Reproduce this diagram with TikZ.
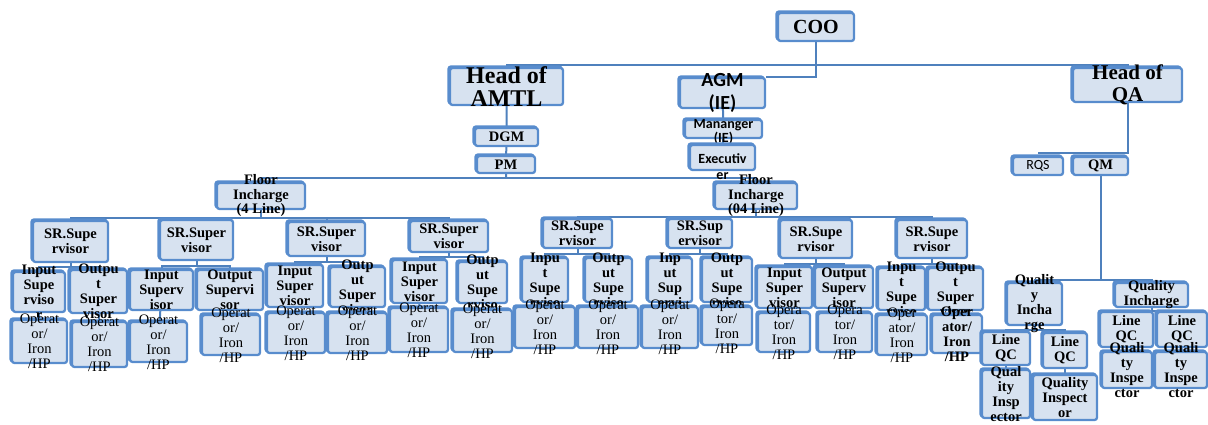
\documentclass[tikz,border=0pt]{standalone}
\usepackage{fontspec}
\setmainfont{Liberation Serif}
\newfontfamily\calibri{Carlito}
\usetikzlibrary{shadows,backgrounds}

\definecolor{boxfill}{RGB}{215,226,240}
\definecolor{boxline}{RGB}{88,140,205}
\definecolor{linkblue}{RGB}{79,129,189}

\tikzset{
	org/.style={draw=boxline, fill=boxfill, line width=2.3pt, rounded corners=2.5pt, inner sep=0pt,
		copy shadow={shadow xshift=-1.5pt, shadow yshift=1.5pt}},
	box/.style 2 args={org, minimum width=#1pt, minimum height=#2pt},
	txt/.style={align=center, inner sep=0pt, font=\bfseries\fontsize{14.5}{15}\selectfont},
	optxt/.style={align=center, inner sep=0pt, font=\fontsize{14.5}{15}\selectfont},
	link/.style={draw=linkblue, line width=2pt},
}

\begin{document}
\begin{tikzpicture}[x=1pt,y=-1pt]
	\useasboundingbox (0,0) rectangle (1208,424);

		% top of the chart
		\node[box={76}{28}, label={[txt, font=\bfseries\fontsize{20}{22}\selectfont]center:COO}] (coo) at (816,27) {};
		\node[box={113}{37}, label={[txt, font=\bfseries\fontsize{24}{23}\selectfont]center:{Head of\\AMTL}}] (amtl) at (506.5,86.5) {};
		\node[box={85}{30}, label={[txt, font=\calibri\bfseries\fontsize{20}{23}\selectfont]center:{AGM\\(IE)}}] (agm) at (722.5,93) {};
		\node[box={109}{34}, label={[txt, font=\bfseries\fontsize{21}{22}\selectfont]center:{Head of\\QA}}] (qa) at (1127.5,85) {};

		\node[box={63}{18}, label={[txt]center:DGM}] (dgm) at (506.5,137) {};
		\node[box={58}{17}, label={[txt]center:PM}] (pm) at (506,164.5) {};
		\node[box={77}{18}, label={[txt, font=\calibri\bfseries\fontsize{14}{14}\selectfont, yshift=-3pt]center:{Mananger\\(IE)}}] (mgr) at (723.5,129) {};
		\node[box={65}{25}, label={[txt, font=\calibri\bfseries\fontsize{14}{15.5}\selectfont, yshift=-9pt]center:{Executiv\\er}}] (exe) at (722.5,157.5) {};
		\node[box={50}{18}, label={[optxt, font=\calibri\fontsize{14}{14}\selectfont]center:RQS}] (rqs) at (1038,166) {};
		\node[box={55}{18}, label={[txt]center:QM}] (qm) at (1100.5,166) {};

		\node[box={88}{26}, label={[txt, font=\bfseries\fontsize{14.5}{14.5}\selectfont]center:{Floor\\Incharge\\(4 Line)}}] (fi1) at (261,196) {};
		\node[box={82}{26}, label={[txt, font=\bfseries\fontsize{14.5}{14.5}\selectfont]center:{Floor\\Incharge\\(04 Line)}}] (fi2) at (756,196) {};

		% senior supervisors
		\node[box={75}{41}, label={[txt]center:{SR.Supe\\rvisor}}] (s1) at (70.5,241.5) {};
		\node[box={73}{40}, label={[txt]center:{SR.Super\\visor}}] (s2) at (196.5,240) {};
		\node[box={77}{34}, label={[txt]center:{SR.Super\\visor}}] (s3) at (326.5,239) {};
		\node[box={78}{31}, label={[txt]center:{SR.Super\\visor}}] (s4) at (449,236.5) {};
		\node[box={69}{29}, label={[txt]center:{SR.Supe\\rvisor}}] (s5) at (577.5,233.5) {};
		\node[box={64}{29}, label={[txt]center:{SR.Sup\\ervisor}}] (s6) at (700,233.5) {};
		\node[box={72}{38}, label={[txt]center:{SR.Supe\\rvisor}}] (s7) at (816,239) {};
		\node[box={70}{38}, label={[txt]center:{SR.Supe\\rvisor}}] (s8) at (932,239) {};

		% input and output supervisors
		\node[box={52}{40}, label={[txt]center:{Input\\Supe\\rviso\\r}}] (i1) at (39,292) {};
		\node[box={57}{43}, label={[txt]center:{Outpu\\t\\Super\\visor}}] (o1) at (98.5,291.5) {};
		\node[box={63}{40}, label={[txt]center:{Input\\Superv\\isor}}] (i2) at (161.5,290) {};
		\node[box={66}{40}, label={[txt]center:{Output\\Supervi\\sor}}] (o2) at (230,290) {};
		\node[box={56}{42}, label={[txt]center:{Input\\Super\\visor}}] (i3) at (295,286) {};
		\node[box={55}{40}, label={[txt]center:{Outp\\ut\\Super\\visor}}] (o3) at (357.5,287) {};
		\node[box={55}{43}, label={[txt]center:{Input\\Super\\visor}}] (i4) at (419.5,281.5) {};
		\node[box={49}{41}, label={[txt]center:{Outp\\ut\\Supe\\rviso}}] (o4) at (482.5,282.5) {};
		\node[box={46}{44}, label={[txt]center:{Inpu\\t\\Supe\\rviso}}] (i5) at (545,280) {};
		\node[box={47}{44}, label={[txt]center:{Outp\\ut\\Supe\\rviso}}] (o5) at (608.5,280) {};
		\node[box={44}{44}, label={[txt]center:{Inp\\ut\\Sup\\ervi}}] (i6) at (670,280) {};
		\node[box={50}{44}, label={[txt]center:{Outp\\ut\\Supe\\rviso}}] (o6) at (727,280) {};
		\node[box={55}{41}, label={[txt]center:{Input\\Super\\visor}}] (i7) at (784.5,287.5) {};
		\node[box={58}{41}, label={[txt]center:{Output\\Superv\\isor}}] (o7) at (844,287.5) {};
		\node[box={47}{42}, label={[txt]center:{Inpu\\t\\Supe\\rviso}}] (i8) at (901.5,289) {};
		\node[box={55}{42}, label={[txt]center:{Outpu\\t\\Super\\visor}}] (o8) at (955.5,289) {};

		% operators
		\node[box={55}{43}, label={[optxt]center:{Operat\\or/\\Iron\\/HP}}] (p1) at (39.5,341.5) {};
		\node[box={55}{45}, label={[optxt]center:{Operat\\or/\\Iron\\/HP}}] (p2) at (99.5,344.5) {};
		\node[box={57}{40}, label={[optxt]center:{Operat\\or/\\Iron\\/HP}}] (p3) at (158.5,342) {};
		\node[box={58}{40}, label={[optxt]center:{Operat\\or/\\Iron\\/HP}}] (p4) at (231,335) {};
		\node[box={58}{40}, label={[optxt]center:{Operat\\or/\\Iron\\/HP}}] (p5) at (296,333) {};
		\node[box={59}{40}, label={[optxt]center:{Operat\\or/\\Iron\\/HP}}] (p6) at (357.5,333) {};
		\node[box={58}{44}, label={[optxt]center:{Operat\\or/\\Iron\\/HP}}] (p7) at (419,330) {};
		\node[box={59}{42}, label={[optxt]center:{Operat\\or/\\Iron\\/HP}}] (p8) at (482.5,331) {};
		\node[box={60}{41}, label={[optxt]center:{Operat\\or/\\Iron\\/HP}}] (p9) at (545,327.5) {};
		\node[box={60}{41}, label={[optxt]center:{Operat\\or/\\Iron\\/HP}}] (p10) at (608,327.5) {};
		\node[box={56}{41}, label={[optxt]center:{Operat\\or/\\Iron\\/HP}}] (p11) at (670,327.5) {};
		\node[box={50}{38}, label={[optxt]center:{Opera\\tor/\\Iron\\/HP}}] (p12) at (727,326) {};
		\node[box={52}{39}, label={[optxt]center:{Opera\\tor/\\Iron\\/HP}}] (p13) at (784,332.5) {};
		\node[box={54}{39}, label={[optxt]center:{Opera\\tor/\\Iron\\/HP}}] (p14) at (845,332.5) {};
		\node[box={50}{40}, label={[optxt]center:{Oper\\ator/\\Iron\\/HP}}] (p15) at (902,335) {};
		\node[box={50}{38}, label={[txt]center:{Oper\\ator/\\Iron\\/HP}}] (p16) at (957,334) {};

		% quality side
		\node[box={55}{42}, label={[txt]center:{Qualit\\y\\Incha\\rge}}] (qi1) at (1034.5,304) {};
		\node[box={73}{24}, label={[txt]center:{Quality\\Incharge}}] (qi2) at (1151.5,295) {};
		\node[box={48}{33}, label={[txt]center:{Line\\QC}}] (l1) at (1006,348.5) {};
		\node[box={44}{35}, label={[txt]center:{Line\\QC}}] (l2) at (1065,350.5) {};
		\node[box={53}{35}, label={[txt]center:{Line\\QC}}] (l3) at (1126.5,329.5) {};
		\node[box={50}{35}, label={[txt]center:{Line\\QC}}] (l4) at (1182,329.5) {};
		\node[box={48}{48}, label={[txt]center:{Qual\\ity\\Insp\\ector}}] (qa1) at (1006,394) {};
		\node[box={64}{45}, label={[txt]center:{Quality\\Inspect\\or}}] (qa2) at (1065,397.5) {};
		\node[box={50}{36}, label={[txt]center:{Quali\\ty\\Inspe\\ctor}}] (qa3) at (1127,370) {};
		\node[box={52}{36}, label={[txt]center:{Quali\\ty\\Inspe\\ctor}}] (qa4) at (1181,370) {};

		\coordinate (topbus) at (815,65);
		\coordinate (flbus) at (506,178);
		\coordinate (srbus1) at (261,218);
		\coordinate (srbus2) at (756,217);
		\coordinate (qibus) at (1100.5,280);

	\begin{scope}[on background layer]
		% connectors
		\draw[link] (coo) |- (agm.north east);
		\draw[link] (amtl) |- (topbus) -| (qa);
		\draw[link] (amtl) -- (dgm) -- (pm) -- (flbus);
		\draw[link] (agm) -- (mgr) -- (exe);
		\draw[link] (fi1) |- (flbus) -| (fi2);

		\draw[link] (fi1) -- (srbus1);
		\draw[link] (s1) |- (srbus1) -| (s4);
		\draw[link] (s2) -- (s2 |- srbus1);
		\draw[link] (s3) -- (s3 |- srbus1);
		\draw[link] (fi2) -- (srbus2);
		\draw[link] (s5) |- (srbus2) -| (s8);
		\draw[link] (s6) -- (s6 |- srbus2);
		\draw[link] (s7) -- (s7 |- srbus2);

		\draw[link] (s1) -- ([yshift=-4pt]s1.south);
		\draw[link] (i1) |- ([yshift=-4pt]s1.south) -| (o1);
		\draw[link] (s2) -- ([yshift=-5pt]s2.south);
		\draw[link] (i2) |- ([yshift=-5pt]s2.south) -| (o2);
		\draw[link] (s3) -- ([yshift=-5pt]s3.south);
		\draw[link] (i3) |- ([yshift=-5pt]s3.south) -| (o3);
		\draw[link] (s4) -- ([yshift=-4pt]s4.south);
		\draw[link] (i4) |- ([yshift=-4pt]s4.south) -| (o4);
		\draw[link] (s5) -- ([yshift=-5pt]s5.south);
		\draw[link] (i5) |- ([yshift=-5pt]s5.south) -| (o5);
		\draw[link] (s6) -- ([yshift=-5pt]s6.south);
		\draw[link] (i6) |- ([yshift=-5pt]s6.south) -| (o6);
		\draw[link] (s7) -- ([yshift=-5pt]s7.south);
		\draw[link] (i7) |- ([yshift=-5pt]s7.south) -| (o7);
		\draw[link] (s8) -- ([yshift=-5pt]s8.south);
		\draw[link] (i8) |- ([yshift=-5pt]s8.south) -| (o8);

		\draw[link] (i1) -- (p1);
		\draw[link] (o1) -- (p2);
		\draw[link] (i2) -- (p3);
		\draw[link] (o2) -- (p4);
		\draw[link] (i3) -- (p5);
		\draw[link] (o3) -- (p6);
		\draw[link] (i4) -- (p7);
		\draw[link] (o4) -- (p8);
		\draw[link] (i5) -- (p9);
		\draw[link] (o5) -- (p10);
		\draw[link] (i6) -- (p11);
		\draw[link] (o6) -- (p12);
		\draw[link] (i7) -- (p13);
		\draw[link] (o7) -- (p14);
		\draw[link] (i8) -- (p15);
		\draw[link] (o8) -- (p16);

		\draw[link] (qa) |- ([yshift=3pt]rqs.north);
		\draw[link] (qm) -- (qibus);
		\draw[link] (qi1) |- (qibus) -| (qi2);
		\draw[link] (qi1) -- ([yshift=-3.5pt]qi1.south);
		\draw[link] (l1) |- ([yshift=-3.5pt]qi1.south) -| (l2);
		\draw[link] (qi2) -- ([yshift=-2.5pt]qi2.south);
		\draw[link] (l3) |- ([yshift=-2.5pt]qi2.south) -| (l4);
		\draw[link] (l1) -- (qa1);
		\draw[link] (l2) -- (qa2);
		\draw[link] (l3) -- (qa3);
		\draw[link] (l4) -- (qa4);
	\end{scope}
\end{tikzpicture}
\end{document}
